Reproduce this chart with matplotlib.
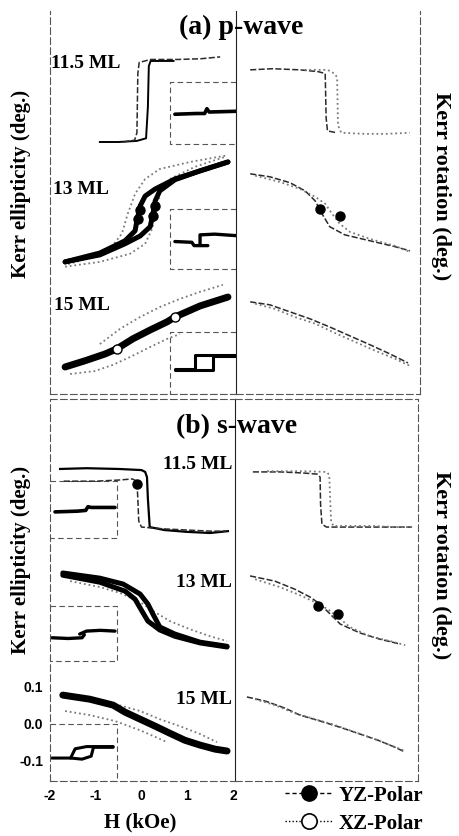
import matplotlib
matplotlib.use("Agg")
import matplotlib.pyplot as plt
from matplotlib.lines import Line2D

# field axis H (kOe) and signal (deg.), curves stacked with offsets as in the figure

# ---- (a) p-wave, Kerr ellipticity ----
a115_yz_x = [-0.91, -0.5, -0.1, 0.1, 0.14, 0.16, 0.2, 0.5, 0.7]
a115_yz_y = [0.505, 0.505, 0.508, 0.515, 0.60, 0.71, 0.724, 0.724, 0.724]
a115_xz_x = [-0.4, -0.15, -0.10, -0.08, -0.05, 0.2, 0.8, 1.3, 1.72]
a115_xz_y = [0.505, 0.51, 0.53, 0.69, 0.72, 0.728, 0.728, 0.73, 0.735]
a115_in_x = [0.73, 1.2, 1.38, 1.43, 1.48, 2.06]
a115_in_y = [0.580, 0.582, 0.582, 0.595, 0.586, 0.588]

a13_yz_dn_x = [1.89, 1.28, 0.73, 0.30, 0.08, -0.03, -0.10, -0.14, -0.36, -0.91, -1.67]
a13_yz_dn_y = [0.451, 0.427, 0.405, 0.378, 0.359, 0.332, 0.292, 0.265, 0.238, 0.205, 0.181]
a13_yz_up_x = [-1.67, -0.91, -0.36, -0.03, 0.19, 0.25, 0.30, 0.40, 0.73, 1.28, 1.89]
a13_yz_up_y = [0.181, 0.200, 0.230, 0.251, 0.276, 0.311, 0.346, 0.373, 0.403, 0.427, 0.451]
a13_dot_x = [-0.08, -0.03, 0.25, 0.30]
a13_dot_y = [0.297, 0.322, 0.305, 0.332]
a13_xz_dn_x = [1.83, 1.06, 0.40, 0.08, -0.14, -0.30, -0.43, -0.69, -1.34, -1.67]
a13_xz_dn_y = [0.468, 0.451, 0.432, 0.405, 0.365, 0.311, 0.257, 0.216, 0.184, 0.173]
a13_xz_up_x = [-1.67, -0.91, -0.25, 0.08, 0.23, 0.34, 0.40, 0.62, 1.17, 1.83]
a13_xz_up_y = [0.168, 0.181, 0.203, 0.230, 0.270, 0.324, 0.365, 0.405, 0.438, 0.465]
a13_in_lo_x = [0.73, 1.10, 1.15, 1.45]
a13_in_lo_y = [0.236, 0.234, 0.225, 0.225]
a13_in_hi_x = [1.28, 1.28, 1.6, 2.06]
a13_in_hi_y = [0.228, 0.254, 0.256, 0.252]

a15_yz_x = [-1.67, -1.23, -0.80, -0.54, -0.19, 0.19, 0.56, 0.73, 1.28, 1.89]
a15_yz_y = [-0.103, -0.086, -0.068, -0.054, -0.027, -0.003, 0.019, 0.032, 0.062, 0.086]
a15_xz_up_x = [-0.91, -0.47, -0.03, 0.40, 0.84, 1.28, 1.78]
a15_xz_up_y = [-0.041, 0.0, 0.032, 0.059, 0.081, 0.100, 0.119]
a15_xz_lo_x = [-1.56, -1.02, -0.62, -0.25, 0.19, 0.56, 0.84]
a15_xz_lo_y = [-0.122, -0.114, -0.097, -0.076, -0.049, -0.027, -0.014]
a15_open_x = [-0.54, 0.73]
a15_open_y = [-0.054, 0.032]
a15_in_up_x = [0.73, 1.56, 1.56, 2.06]
a15_in_up_y = [-0.111, -0.111, -0.073, -0.073]
a15_in_dn_x = [2.06, 1.17, 1.17, 0.73]
a15_in_dn_y = [-0.070, -0.070, -0.108, -0.108]

# ---- (a) p-wave, Kerr rotation ----
ar115_b1_x = [-1.69, -1.2, -0.6, -0.2, -0.05, -0.03, 0.0, 0.2]
ar115_b1_y = [0.70, 0.703, 0.70, 0.695, 0.69, 0.57, 0.535, 0.53]
ar115_b2_x = [-0.5, 0.0, 0.15, 0.21, 0.23, 0.3, 0.8, 1.3, 1.8]
ar115_b2_y = [0.70, 0.70, 0.69, 0.68, 0.55, 0.53, 0.527, 0.527, 0.53]
ar13_b1_x = [-1.69, -1.26, -0.82, -0.49, -0.27, -0.12, 0.05, 0.38, 0.93, 1.48, 1.80]
ar13_b1_y = [0.419, 0.411, 0.395, 0.373, 0.346, 0.311, 0.276, 0.254, 0.238, 0.222, 0.211]
ar13_b2_x = [-1.58, -1.04, -0.60, -0.27, -0.05, 0.10, 0.27, 0.49, 0.93, 1.48, 1.80]
ar13_b2_y = [0.414, 0.397, 0.378, 0.357, 0.338, 0.311, 0.284, 0.262, 0.243, 0.224, 0.208]
ar13_dot_x = [-0.16, 0.27]
ar13_dot_y = [0.324, 0.305]
ar15_b1_x = [-1.69, -1.26, -0.82, -0.38, 0.05, 0.49, 0.93, 1.37, 1.76]
ar15_b1_y = [0.073, 0.065, 0.046, 0.027, 0.005, -0.019, -0.043, -0.068, -0.092]
ar15_b2_x = [-1.58, -1.15, -0.71, -0.27, 0.16, 0.60, 1.04, 1.48, 1.80]
ar15_b2_y = [0.068, 0.054, 0.032, 0.014, -0.011, -0.035, -0.059, -0.081, -0.100]

# ---- (b) s-wave, Kerr ellipticity ----
b115_yz_x = [-1.78, -1.2, -0.5, 0.0, 0.08, 0.12, 0.14, 0.18, 0.5, 1.0, 1.5, 1.89]
b115_yz_y = [0.684, 0.686, 0.684, 0.681, 0.676, 0.662, 0.603, 0.527, 0.519, 0.514, 0.511, 0.516]
b115_xz_x = [-1.7, -1.0, -0.5, -0.2, -0.1, -0.08, -0.06, 0.0, 0.5, 1.0, 1.5, 1.85]
b115_xz_y = [0.651, 0.651, 0.654, 0.657, 0.651, 0.603, 0.543, 0.527, 0.522, 0.519, 0.516, 0.516]
b115_dot_x = [-0.10]
b115_dot_y = [0.643]
b115_in_x = [-1.89, -1.4, -1.22, -1.17, -1.1, -0.58]
b115_in_y = [0.568, 0.570, 0.572, 0.582, 0.580, 0.580]

b13_yz_a_x = [-1.72, -0.91, -0.40, -0.03, 0.14, 0.25, 0.40, 0.73, 1.28, 1.87]
b13_yz_a_y = [0.403, 0.389, 0.373, 0.346, 0.319, 0.292, 0.257, 0.238, 0.216, 0.205]
b13_yz_b_x = [-1.72, -0.91, -0.36, -0.14, 0.01, 0.14, 0.40, 0.73, 1.28, 1.87]
b13_yz_b_y = [0.397, 0.378, 0.354, 0.332, 0.300, 0.273, 0.249, 0.232, 0.214, 0.203]
b13_xz_x = [-1.56, -0.91, -0.47, -0.03, 0.30, 0.62, 1.06, 1.50, 1.87]
b13_xz_y = [0.381, 0.365, 0.349, 0.324, 0.297, 0.273, 0.251, 0.232, 0.219]
b13_in_lo_x = [-1.96, -1.6, -1.3, -1.25]
b13_in_lo_y = [0.228, 0.226, 0.228, 0.236]
b13_in_hi_x = [-1.35, -1.2, -0.9, -0.58]
b13_in_hi_y = [0.238, 0.246, 0.248, 0.246]

b15_yz_x = [-1.72, -1.13, -0.62, -0.36, -0.03, 0.30, 0.62, 0.95, 1.28, 1.61, 1.87]
b15_yz_y = [0.073, 0.062, 0.046, 0.027, 0.008, -0.011, -0.030, -0.049, -0.062, -0.073, -0.078]
b15_xz_up_x = [-0.58, -0.03, 0.40, 0.84, 1.28, 1.65]
b15_xz_up_y = [0.049, 0.030, 0.008, -0.011, -0.032, -0.054]
b15_xz_lo_x = [-1.67, -1.13, -0.58, -0.03, 0.56]
b15_xz_lo_y = [0.030, 0.019, 0.003, -0.022, -0.054]
b15_in_up_x = [-1.96, -1.55, -1.45, -1.2, -0.62]
b15_in_up_y = [-0.097, -0.097, -0.072, -0.066, -0.066]
b15_in_dn_x = [-0.62, -1.05, -1.1, -1.3, -1.55]
b15_in_dn_y = [-0.068, -0.068, -0.092, -0.100, -0.097]

# ---- (b) s-wave, Kerr rotation ----
br115_b1_x = [-1.61, -1.0, -0.5, -0.2, -0.14, -0.13, -0.10, 0.0, 0.5, 1.0, 1.5, 1.87]
br115_b1_y = [0.676, 0.676, 0.673, 0.670, 0.662, 0.589, 0.535, 0.527, 0.527, 0.527, 0.527, 0.527]
br115_b2_x = [-1.3, -0.5, 0.0, 0.06, 0.08, 0.10, 0.15, 0.5, 1.0, 1.5, 1.87]
br115_b2_y = [0.678, 0.678, 0.676, 0.668, 0.603, 0.543, 0.530, 0.530, 0.530, 0.527, 0.527]
br13_b1_x = [-1.67, -1.13, -0.69, -0.36, -0.14, 0.08, 0.30, 0.73, 1.17, 1.61]
br13_b1_y = [0.395, 0.381, 0.359, 0.338, 0.319, 0.292, 0.265, 0.241, 0.224, 0.211]
br13_b2_x = [-1.56, -1.02, -0.58, -0.25, 0.03, 0.25, 0.51, 0.95, 1.39, 1.72]
br13_b2_y = [0.386, 0.365, 0.343, 0.324, 0.305, 0.284, 0.257, 0.232, 0.219, 0.208]
br13_dot_x = [-0.19, 0.25]
br13_dot_y = [0.314, 0.292]
br15_b1_x = [-1.74, -1.34, -0.91, -0.58, -0.14, 0.30, 0.73, 1.13, 1.50, 1.72]
br15_b1_y = [0.068, 0.057, 0.038, 0.019, 0.003, -0.014, -0.032, -0.049, -0.068, -0.081]
br15_b2_x = [-1.56, -1.13, -0.69, -0.25, 0.19, 0.62, 1.06, 1.39, 1.72]
br15_b2_y = [0.062, 0.046, 0.024, 0.008, -0.008, -0.027, -0.046, -0.062, -0.078]

x_ticks = [-2, -1, 0, 1, 2]
y_ticks = [-0.1, 0.0, 0.1]
y_ticklabels = ['-0.1', '0.0', '0.1']

W, H = 459, 837
SERIF = ['Liberation Serif', 'DejaVu Serif']
SANS = ['Liberation Sans', 'DejaVu Sans']


def fx(px):
    return px / W


def fy(py):
    return 1 - py / H


def yz(ax, x, y, lw=3.6):
    ax.plot(x, y, color='k', lw=lw, solid_capstyle='round', solid_joinstyle='round')


def xz(ax, x, y):
    ax.plot(x, y, color='#7a7a7a', lw=1.3, ls=(0, (1, 1.6)))


def thin(ax, x, y):
    ax.plot(x, y, color='#2a2a2a', lw=1.1, ls=(0, (4, 1.5)))


def dots(ax, x, y, filled=True):
    ax.plot(x, y, ls='none', marker='o', ms=6.5, mec='k',
            mfc='k' if filled else 'white', mew=1.0)


def inset_box(ax, x0, x1, y0, y1):
    ax.plot([x1, x0, x0, x1], [y1, y1, y0, y0], color='#555', lw=0.8, ls=(0, (5, 3)))


def frame(ax, left=True, right=True, top=True):
    for side, sp in ax.spines.items():
        sp.set_color('#555')
        sp.set_linewidth(0.8)
        sp.set_linestyle((0, (6, 3)))
    ax.spines['left'].set_visible(left)
    ax.spines['right'].set_visible(right)
    ax.spines['top'].set_visible(top)
    ax.set_xticks([])
    ax.set_yticks([])
    ax.patch.set_alpha(0)


fig = plt.figure(figsize=(W / 100, H / 100), dpi=100)

ax_al = fig.add_axes([fx(50), fy(395), fx(186), 383 / H])
ax_ar = fig.add_axes([fx(236), fy(395), fx(184), 383 / H])
ax_bl = fig.add_axes([fx(50), fy(782), fx(185), 382 / H])
ax_br = fig.add_axes([fx(235), fy(782), fx(183), 382 / H])

for ax in (ax_al, ax_ar):
    ax.set_ylim(-0.176, 0.859)
for ax in (ax_bl, ax_br):
    ax.set_ylim(-0.159, 0.873)
ax_al.set_xlim(-2, 2.066)
ax_ar.set_xlim(-2, 2.022)
ax_bl.set_xlim(-2, 2.044)
ax_br.set_xlim(-2, 2.0)

frame(ax_al, top=False)
ax_al.spines['right'].set_linestyle('-')
ax_al.spines['right'].set_color('#222')
frame(ax_ar, left=False, top=False)
frame(ax_bl)
ax_bl.spines['right'].set_linestyle('-')
ax_bl.spines['right'].set_color('#222')
frame(ax_br, left=False)

# (a) left: ellipticity
inset_box(ax_al, 0.62, 2.066, 0.500, 0.668)
ax_al.plot(a115_yz_x, a115_yz_y, color='k', lw=1.4)
thin(ax_al, a115_xz_x, a115_xz_y)
yz(ax_al, a115_in_x, a115_in_y, lw=2.6)

inset_box(ax_al, 0.62, 2.066, 0.162, 0.324)
xz(ax_al, a13_xz_dn_x, a13_xz_dn_y)
xz(ax_al, a13_xz_up_x, a13_xz_up_y)
yz(ax_al, a13_yz_dn_x, a13_yz_dn_y)
yz(ax_al, a13_yz_up_x, a13_yz_up_y)
dots(ax_al, a13_dot_x, a13_dot_y)
yz(ax_al, a13_in_lo_x, a13_in_lo_y, lw=2.4)
yz(ax_al, a13_in_hi_x, a13_in_hi_y, lw=2.4)

inset_box(ax_al, 0.62, 2.066, -0.176, -0.008)
xz(ax_al, a15_xz_up_x, a15_xz_up_y)
xz(ax_al, a15_xz_lo_x, a15_xz_lo_y)
yz(ax_al, a15_yz_x, a15_yz_y, lw=5)
dots(ax_al, a15_open_x, a15_open_y, filled=False)
yz(ax_al, a15_in_up_x, a15_in_up_y, lw=2.2)
yz(ax_al, a15_in_dn_x, a15_in_dn_y, lw=2.2)

# (a) right: rotation
thin(ax_ar, ar115_b1_x, ar115_b1_y)
xz(ax_ar, ar115_b2_x, ar115_b2_y)
thin(ax_ar, ar13_b1_x, ar13_b1_y)
xz(ax_ar, ar13_b2_x, ar13_b2_y)
dots(ax_ar, ar13_dot_x, ar13_dot_y)
thin(ax_ar, ar15_b1_x, ar15_b1_y)
xz(ax_ar, ar15_b2_x, ar15_b2_y)

# (b) left: ellipticity
inset_box(ax_bl, -0.54, -2.0, 0.497, 0.651)
ax_bl.plot(b115_yz_x, b115_yz_y, color='k', lw=1.6)
thin(ax_bl, b115_xz_x, b115_xz_y)
dots(ax_bl, b115_dot_x, b115_dot_y)
yz(ax_bl, b115_in_x, b115_in_y, lw=2.6)

inset_box(ax_bl, -0.54, -2.0, 0.165, 0.314)
xz(ax_bl, b13_xz_x, b13_xz_y)
yz(ax_bl, b13_yz_a_x, b13_yz_a_y)
yz(ax_bl, b13_yz_b_x, b13_yz_b_y)
yz(ax_bl, b13_in_lo_x, b13_in_lo_y, lw=2.4)
yz(ax_bl, b13_in_hi_x, b13_in_hi_y, lw=2.4)

inset_box(ax_bl, -0.54, -2.0, -0.159, -0.005)
xz(ax_bl, b15_xz_up_x, b15_xz_up_y)
xz(ax_bl, b15_xz_lo_x, b15_xz_lo_y)
yz(ax_bl, b15_yz_x, b15_yz_y, lw=5)
yz(ax_bl, b15_in_up_x, b15_in_up_y, lw=2.2)
yz(ax_bl, b15_in_dn_x, b15_in_dn_y, lw=2.2)

# (b) right: rotation
thin(ax_br, br115_b1_x, br115_b1_y)
xz(ax_br, br115_b2_x, br115_b2_y)
thin(ax_br, br13_b1_x, br13_b1_y)
xz(ax_br, br13_b2_x, br13_b2_y)
dots(ax_br, br13_dot_x, br13_dot_y)
thin(ax_br, br15_b1_x, br15_b1_y)
xz(ax_br, br15_b2_x, br15_b2_y)

# ticks only on the lowest left panel
ax_bl.set_xticks(x_ticks)
ax_bl.set_xticklabels([str(t) for t in x_ticks])
ax_bl.set_yticks(y_ticks)
ax_bl.set_yticklabels(y_ticklabels)
ax_bl.tick_params(length=0, pad=5)
for lab in ax_bl.get_xticklabels() + ax_bl.get_yticklabels():
    lab.set_family(SANS)
    lab.set_fontweight('bold')
    lab.set_fontsize(10)

bold = dict(family=SERIF, fontweight='bold')
fig.text(fx(241), fy(27), '(a) p-wave', ha='center', va='center', fontsize=20, **bold)
fig.text(fx(237), fy(427), '(b) s-wave', ha='center', va='center', fontsize=20, **bold)

for txt, px, py in [('11.5 ML', 51, 63), ('13 ML', 53, 190), ('15 ML', 54, 305)]:
    fig.text(fx(px), fy(py), txt, ha='left', va='center', fontsize=14, **bold)
for txt, px, py in [('11.5 ML', 232, 465), ('13 ML', 232, 583), ('15 ML', 232, 700)]:
    fig.text(fx(px), fy(py), txt, ha='right', va='center', fontsize=14, **bold)

fig.text(fx(21), fy(184), 'Kerr ellipticity (deg.)', rotation=90, ha='center', va='center', fontsize=15, **bold)
fig.text(fx(21), fy(560), 'Kerr ellipticity (deg.)', rotation=90, ha='center', va='center', fontsize=15, **bold)
fig.text(fx(441), fy(186), 'Kerr rotation (deg.)', rotation=-90, ha='center', va='center', fontsize=16, **bold)
fig.text(fx(441), fy(565), 'Kerr rotation (deg.)', rotation=-90, ha='center', va='center', fontsize=16, **bold)

fig.text(fx(140), fy(822), 'H (kOe)', ha='center', va='center', fontsize=15, **bold)

handles = [
    Line2D([], [], color='k', lw=1, ls=(0, (3, 2)), marker='o', ms=11, mfc='k', mec='k'),
    Line2D([], [], color='k', lw=1, ls=(0, (1, 1.5)), marker='o', ms=11, mfc='white', mec='k', mew=1.2),
]
fig.legend(handles, ['YZ-Polar', 'XZ-Polar'], loc='upper left',
           bbox_to_anchor=(fx(285), fy(786)), frameon=False, handlelength=2.3,
           handletextpad=0.25, labelspacing=0.38, borderpad=0, borderaxespad=0,
           prop=dict(family=SERIF, weight='bold', size=15))

fig.savefig('out.png', dpi=100)
